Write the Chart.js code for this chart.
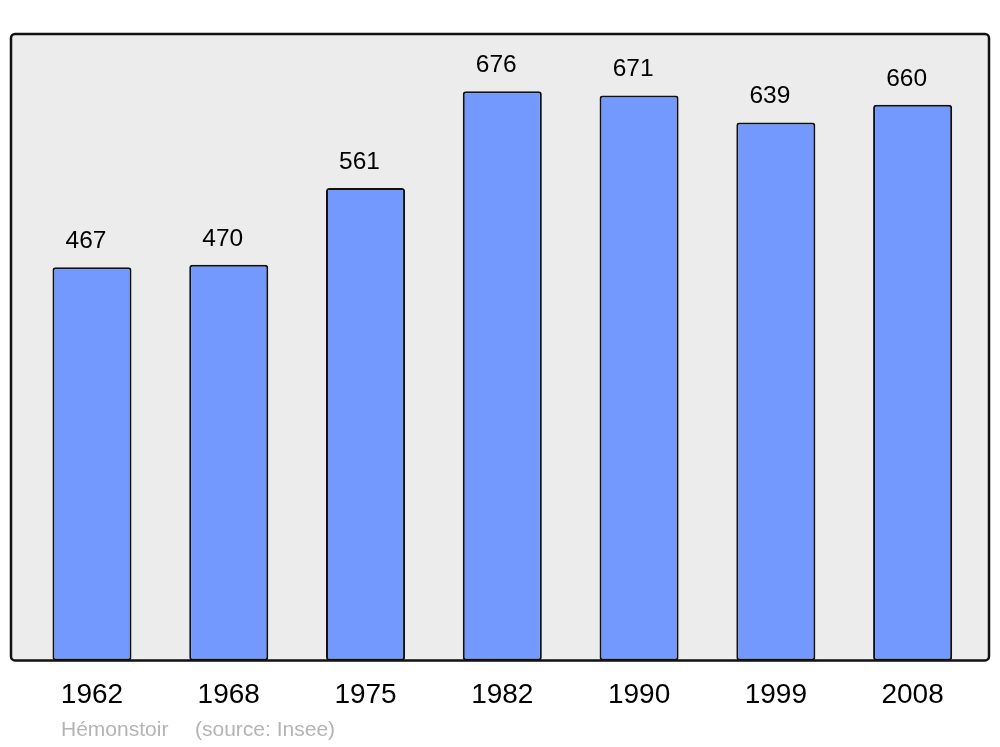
<!DOCTYPE html>
<html>
<head>
<meta charset="utf-8">
<script src="https://cdn.jsdelivr.net/npm/chart.js@4/dist/chart.umd.min.js"></script>
<style>
html,body{margin:0;padding:0;background:#fff;}
#wrap{width:1000px;height:747px;position:relative;}
</style>
</head>
<body>
<div id="wrap"><canvas id="c" width="1000" height="747"></canvas></div>
<script>
const years = ["1962","1968","1975","1982","1990","1999","2008"];
const population = [467, 470, 561, 676, 671, 639, 660];
const yMax = 744;
const footerLeft = "Hémonstoir";
const footerRight = "(source: Insee)";

const framePlugin = {
  id: 'frame',
  beforeDatasetsDraw(chart) {
    const {ctx, chartArea} = chart;
    const l = chartArea.left - 12.6, r = chartArea.right + 8;
    const t = chartArea.top, b = chartArea.bottom;
    ctx.save();
    ctx.beginPath();
    ctx.roundRect(l, t, r - l, b - t, 4);
    ctx.fillStyle = '#ececec';
    ctx.fill();
    ctx.restore();
  },
  afterDatasetsDraw(chart) {
    const {ctx, chartArea} = chart;
    const l = chartArea.left - 12.6, r = chartArea.right + 8;
    const t = chartArea.top, b = chartArea.bottom;
    ctx.save();
    ctx.beginPath();
    ctx.roundRect(l, t, r - l, b - t, 4);
    ctx.lineWidth = 2.5;
    ctx.strokeStyle = '#111';
    ctx.stroke();
    // value labels
    const meta = chart.getDatasetMeta(0);
    ctx.fillStyle = '#000';
    ctx.font = '24.5px "Liberation Sans", Arial, sans-serif';
    ctx.textAlign = 'center';
    ctx.textBaseline = 'alphabetic';
    meta.data.forEach((bar, i) => {
      ctx.fillText(String(population[i]), bar.x - 6, bar.y - 19);
    });
    // footer
    ctx.fillStyle = '#b4b4b4';
    ctx.font = '21px "Liberation Sans", Arial, sans-serif';
    ctx.textAlign = 'left';
    ctx.textBaseline = 'middle';
    ctx.fillText(footerLeft, 61, 730);
    ctx.fillText(footerRight, 195, 730);
    ctx.restore();
  }
};

new Chart(document.getElementById('c'), {
  type: 'bar',
  data: {
    labels: years,
    datasets: [{
      data: population,
      backgroundColor: '#7399ff',
      borderColor: '#111',
      borderWidth: 2,
      borderRadius: 3,
      borderSkipped: false,
      barPercentage: 0.578,
      categoryPercentage: 1
    }]
  },
  options: {
    responsive: false,
    animation: false,
    devicePixelRatio: 1,
    layout: { padding: { left: 23.6, right: 19, top: 34, bottom: 17 } },
    plugins: { legend: { display: false }, tooltip: { enabled: false }, title: { display: false } },
    scales: {
      x: {
        grid: { display: false, drawTicks: false },
        border: { display: false },
        ticks: {
          color: '#000',
          padding: 18,
          font: { family: '"Liberation Sans", Arial, sans-serif', size: 28, lineHeight: 1.2 }
        }
      },
      y: {
        display: false,
        min: 0,
        max: yMax
      }
    }
  },
  plugins: [framePlugin]
});
</script>
</body>
</html>
